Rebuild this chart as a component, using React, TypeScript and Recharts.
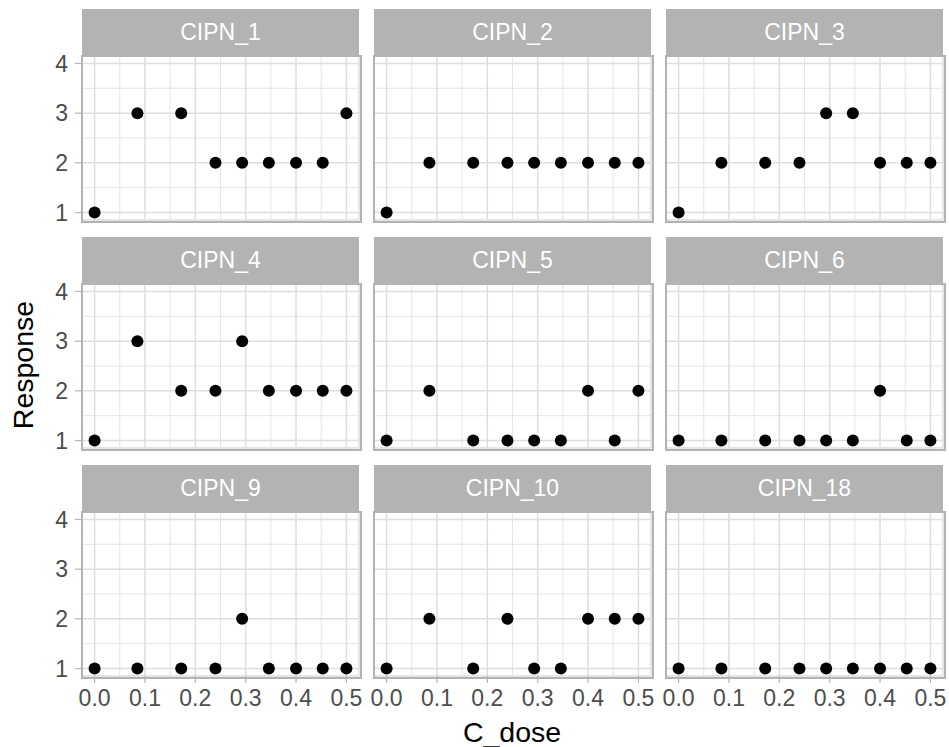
/** Faceted dose–response grid (3×3), ggplot theme_light look: grey strips,
 *  light grid with minor lines, axis labels only on the outer panels. */
import {
  CartesianGrid,
  ReferenceLine,
  Scatter,
  ScatterChart,
  XAxis,
  YAxis,
} from "recharts";

const doses = [0, 0.085, 0.172, 0.24, 0.293, 0.346, 0.4, 0.453, 0.5];

const panelNames = [
  "CIPN_1", "CIPN_2", "CIPN_3",
  "CIPN_4", "CIPN_5", "CIPN_6",
  "CIPN_9", "CIPN_10", "CIPN_18",
];

const cipn1 = [1, 3, 3, 2, 2, 2, 2, 2, 3];
const cipn2 = [1, 2, 2, 2, 2, 2, 2, 2, 2];
const cipn3 = [1, 2, 2, 2, 3, 3, 2, 2, 2];
const cipn4 = [1, 3, 2, 2, 3, 2, 2, 2, 2];
const cipn5 = [1, 2, 1, 1, 1, 1, 2, 1, 2];
const cipn6 = [1, 1, 1, 1, 1, 1, 2, 1, 1];
const cipn9 = [1, 1, 1, 1, 2, 1, 1, 1, 1];
const cipn10 = [1, 2, 1, 2, 1, 1, 2, 2, 2];
const cipn18 = [1, 1, 1, 1, 1, 1, 1, 1, 1];

const responses = [cipn1, cipn2, cipn3, cipn4, cipn5, cipn6, cipn9, cipn10, cipn18];

const xTicks = [0, 0.1, 0.2, 0.3, 0.4, 0.5];
const xMinor = [0.05, 0.15, 0.25, 0.35, 0.45];
const yTicks = [1, 2, 3, 4];
const yMinor = [1.5, 2.5, 3.5];

const FONT = '"Liberation Sans", Arial, Helvetica, sans-serif';
const GRID = "#DEDEDE";
const BORDER = "#B3B3B3";

// layout of the facet grid, in page pixels
const PANEL_LEFT = [82, 374, 666];
const PANEL_W = 277;
const STRIP_TOP = [9, 237, 465];
const STRIP_H = 47;
const PANEL_H = 164;
const Y_AXIS_W = 82;
const X_AXIS_H = 44;
const SIDE = 24; // spare room so edge tick labels are not clipped
const VPAD = 12; // same, above and below the plot area

function Dot(props: any) {
  const { cx, cy } = props;
  if (cx == null || cy == null) return null;
  return <circle cx={cx} cy={cy} r={6} fill="#000" />;
}

function Panel({ index }: { index: number }) {
  const row = Math.floor(index / 3);
  const col = index % 3;
  const showY = col === 0;
  const showX = row === 2;
  const data = doses.map((d, i) => ({ x: d, y: responses[index][i] }));

  const panelTop = STRIP_TOP[row] + STRIP_H;
  const leftPad = showY ? 0 : SIDE;
  const yW = showY ? Y_AXIS_W : 0;
  const bottomPad = showX ? 0 : VPAD;
  const chartLeft = PANEL_LEFT[col] - yW - leftPad;
  const width = leftPad + yW + PANEL_W + SIDE;
  const height = VPAD + PANEL_H + (showX ? X_AXIS_H : bottomPad);

  return (
    <>
      <div
        style={{
          position: "absolute",
          left: PANEL_LEFT[col],
          top: STRIP_TOP[row],
          width: PANEL_W,
          height: STRIP_H,
          background: "#B3B3B3",
          color: "#FFFFFF",
          fontFamily: FONT,
          fontSize: 23,
          display: "flex",
          alignItems: "center",
          justifyContent: "center",
        }}
      >
        {panelNames[index]}
      </div>
      <div style={{ position: "absolute", left: chartLeft, top: panelTop - VPAD }}>
        <ScatterChart
          width={width}
          height={height}
          margin={{ top: VPAD, right: SIDE, bottom: bottomPad, left: leftPad }}
        >
          <XAxis
            type="number"
            dataKey="x"
            domain={[-0.025, 0.525]}
            allowDataOverflow
            ticks={xTicks}
            tickFormatter={(v: number) => v.toFixed(1)}
            hide={!showX}
            height={X_AXIS_H}
            axisLine={false}
            tickSize={7}
            tickMargin={7}
            tickLine={{ stroke: BORDER, strokeWidth: 1.2 }}
            tick={{ fill: "#4D4D4D", fontSize: 23, fontFamily: FONT }}
            interval={0}
          />
          <YAxis
            type="number"
            dataKey="y"
            domain={[0.85, 4.15]}
            allowDataOverflow
            ticks={yTicks}
            hide={!showY}
            width={yW}
            axisLine={false}
            tickSize={7}
            tickMargin={7}
            tickLine={{ stroke: BORDER, strokeWidth: 1.2 }}
            tick={{ fill: "#4D4D4D", fontSize: 23, fontFamily: FONT }}
            interval={0}
          />
          {xMinor.map((v) => (
            <ReferenceLine key={`xm${v}`} x={v} stroke={GRID} strokeWidth={0.8} />
          ))}
          {yMinor.map((v) => (
            <ReferenceLine key={`ym${v}`} y={v} stroke={GRID} strokeWidth={0.8} />
          ))}
          <CartesianGrid stroke={GRID} strokeWidth={1.5} />
          <Scatter data={data} shape={Dot} isAnimationActive={false} />
        </ScatterChart>
      </div>
      <div
        style={{
          position: "absolute",
          left: PANEL_LEFT[col] - 1,
          top: panelTop - 1,
          width: PANEL_W,
          height: PANEL_H,
          border: `2px solid ${BORDER}`,
          pointerEvents: "none",
        }}
      />
    </>
  );
}

export default function App() {
  return (
    <div
      style={{
        position: "absolute",
        left: 0,
        top: 0,
        width: 949,
        height: 747,
        background: "#FFFFFF",
        overflow: "hidden",
      }}
    >
      {panelNames.map((_, i) => (
        <Panel key={i} index={i} />
      ))}
      <svg
        width={949}
        height={747}
        style={{ position: "absolute", left: 0, top: 0, pointerEvents: "none" }}
      >
        <text
          x={512}
          y={742}
          textAnchor="middle"
          fontFamily={FONT}
          fontSize={28.5}
          fill="#000"
        >
          C_dose
        </text>
        <text
          transform="translate(33,365) rotate(-90)"
          textAnchor="middle"
          fontFamily={FONT}
          fontSize={28.5}
          fill="#000"
        >
          Response
        </text>
      </svg>
    </div>
  );
}
